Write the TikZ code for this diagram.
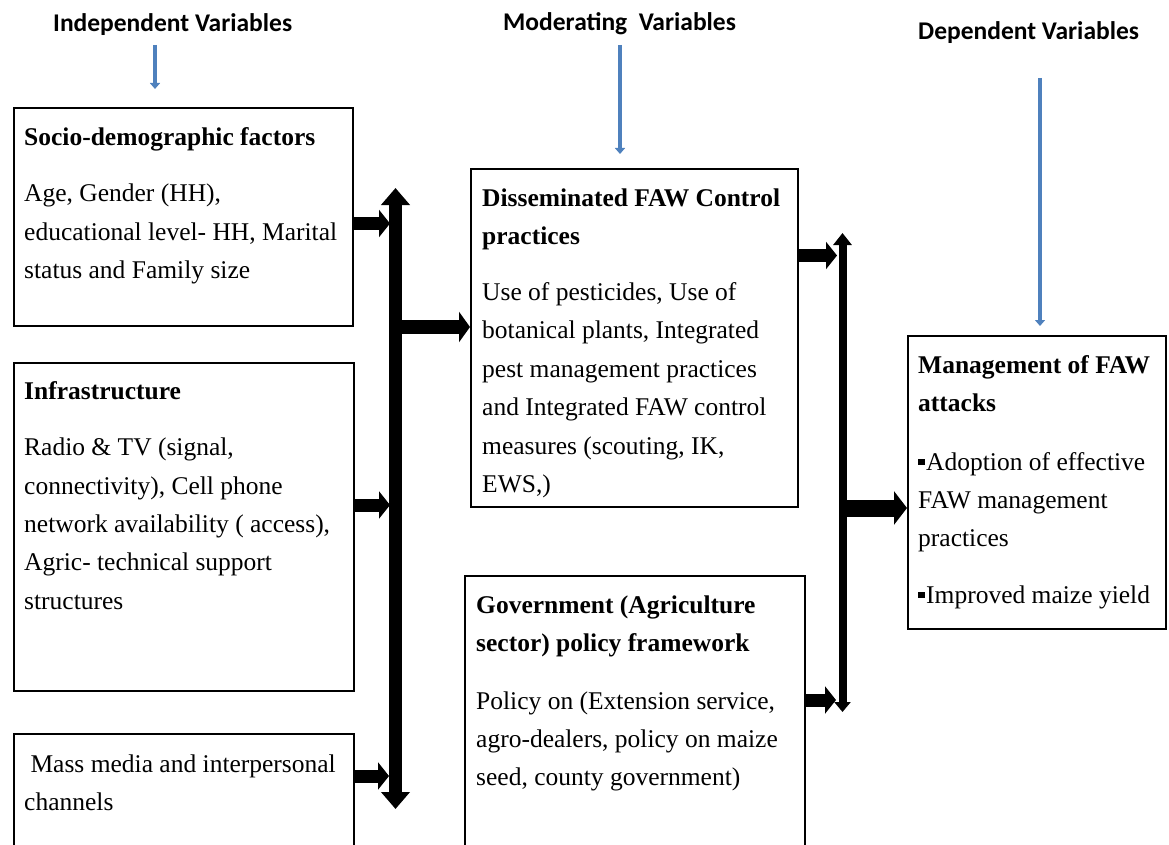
\documentclass[tikz,border=0pt]{standalone}
\usepackage{fontspec}
\setmainfont{Liberation Serif}
\newfontfamily\hdrfont{Carlito}
\usetikzlibrary{arrows.meta}
\definecolor{hblue}{RGB}{79,129,189}
\newcommand{\toph}{\rule{0pt}{20pt}}
\newcommand{\sqb}{\rule[5pt]{6.5pt}{6.5pt}\hspace{1.5pt}}
\tikzset{
  box/.style={draw=black, line width=1.6pt, anchor=north west, inner sep=0pt},
  txt/.style={anchor=north west, inner sep=0pt, align=left, font=\fontsize{25.5}{38.4}\selectfont},
  hdr/.style={anchor=base west, inner sep=0pt, font=\hdrfont\bfseries\fontsize{25.5}{30}\selectfont},
  bluearrow/.style={draw=hblue, line width=3.5pt, -{Triangle[width=10pt,length=6pt]}},
  harrow/.style={line width=13pt, -{Triangle[width=27pt,length=11pt]}},
}
\begin{document}
\begin{tikzpicture}[x=1pt,y=-1pt]
\useasboundingbox (0,0) rectangle (1169,845);
\clip (0,0) rectangle (1169,845);
% headers
\node[hdr] (h1) at (53,32) {Independent Variables};
\node[hdr] (h2) at (503,31) {Moderating\ \ Variables};
\node[hdr] (h3) at (918,40) {Dependent Variables};
% blue arrows
\coordinate (ba1) at (155,45); \coordinate (bb1) at (155,89);
\coordinate (ba2) at (620,45); \coordinate (bb2) at (620,154);
\coordinate (ba3) at (1040,78); \coordinate (bb3) at (1040,326);
\draw[bluearrow] (ba1) -- (bb1);
\draw[bluearrow] (ba2) -- (bb2);
\draw[bluearrow] (ba3) -- (bb3);
% boxes
\node[box, minimum width=339, minimum height=218] (b1) at (13,107) {};
\node[box, minimum width=340, minimum height=328] (b2) at (13,362) {};
\node[box, minimum width=340, minimum height=160] (b3) at (13,733) {};
\node[box, minimum width=327, minimum height=338] (b4) at (470,168) {};
\node[box, minimum width=340, minimum height=300] (b5) at (464,575) {};
\node[box, minimum width=258, minimum height=293, line width=2pt] (b6) at (907,335) {};
% texts
\node[txt] (t1) at (24,125) {\toph\textbf{Socio-demographic factors}\\[18pt]
  Age, Gender (HH),\\ educational level- HH, Marital\\ status and Family size};
\node[txt] (t2) at (24,379) {\toph\textbf{Infrastructure}\\[18pt]
  Radio \& TV (signal,\\ connectivity), Cell phone\\ network availability ( access),\\
  Agric- technical support\\ structures};
\node[txt] (t3) at (24,752) {\toph\ Mass media and interpersonal\\ channels};
\node[txt] (t4) at (482,186) {\toph\textbf{Disseminated FAW Control}\\ \textbf{practices}\\[17.5pt]
  Use of pesticides, Use of\\ botanical plants, Integrated\\ pest management practices\\
  and Integrated FAW control\\ measures (scouting, IK,\\ EWS,)};
\node[txt] (t5) at (476,593) {\toph\textbf{Government (Agriculture}\\ \textbf{sector) policy framework}\\[19pt]
  \fontsize{25.5}{39.5}\selectfont Policy on (Extension service,\\ agro-dealers, policy on maize\\ seed, county government)};
\node[txt] (t6) at (918,353) {\toph\textbf{Management of FAW}\\ \textbf{attacks}\\[20pt]
  \sqb Adoption of effective\\ FAW management\\ practices\\[18pt]
  \sqb Improved maize yield};
% left bar
\coordinate (L1) at (395.5,188);
\coordinate (L2) at (395.5,809);
\draw[line width=13pt, {Triangle[width=28pt,length=17pt]}-{Triangle[width=28pt,length=17pt]}] (L2) -- (L1);
\coordinate (a1) at (390,223.5);
\coordinate (a2) at (390,505);
\coordinate (a3) at (389,776);
\draw[harrow] (b1.east |- a1) -- (a1);
\draw[harrow] (b2.east |- a2) -- (a2);
\draw[harrow] (b3.east |- a3) -- (a3);
\coordinate (a4) at (402,327);
\draw[line width=14pt, -{Triangle[width=30pt,length=11pt]}] (a4) -- (b4.west |- a4);
% right bar
\coordinate (R1) at (842.5,233);
\coordinate (R2) at (842.5,712);
\draw[line width=8pt, {Triangle[width=16pt,length=10pt]}-{Triangle[width=18pt,length=12pt]}] (R2) -- (R1);
\coordinate (c1) at (837,255.5);
\coordinate (c2) at (836,700);
\draw[harrow] (b4.east |- c1) -- (c1);
\draw[harrow] (b5.east |- c2) -- (c2);
\coordinate (c3) at (847,508);
\draw[line width=17pt, -{Triangle[width=33pt,length=13pt]}] (c3) -- (b6.west |- c3);
\end{tikzpicture}
\end{document}
